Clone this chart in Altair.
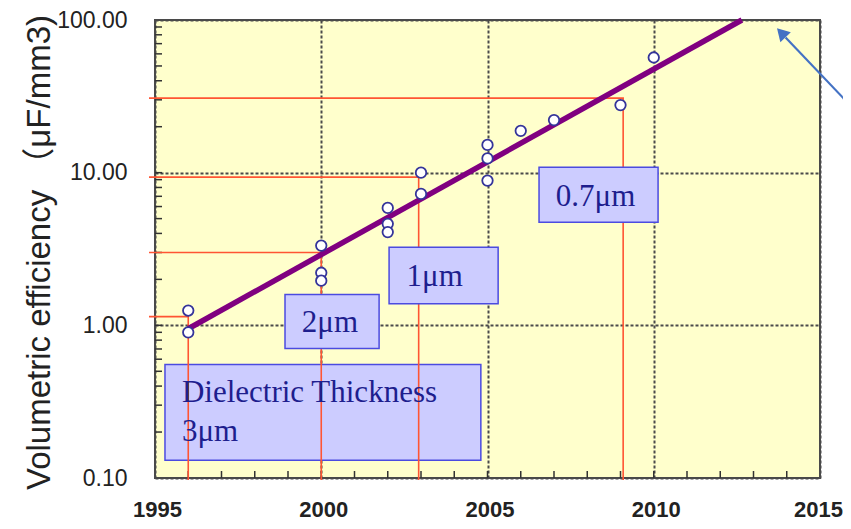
import altair as alt
import pandas as pd

# ---------------- data ----------------
pt_year = [1996, 1996, 2000, 2000, 2000, 2002, 2002, 2002, 2003, 2003,
           2005, 2005, 2005, 2006, 2007, 2009, 2010]
pt_val = [1.25, 0.90, 3.33, 2.21, 1.96, 5.88, 4.62, 4.08, 10.0, 7.26,
          15.2, 12.4, 8.87, 18.8, 22.1, 27.7, 56.8]

trend_year = [1996, 2012.65]
trend_val = [0.95, 100]

step_label = ["3μm", "2μm", "1μm", "0.7μm"]
step_year = [1996, 2000, 2002.93, 2009.08]
step_val = [1.14, 3.0, 9.35, 30.8]
step_start_year = 1994.82
step_floor = 0.097

box_label = ["Dielectric Thickness 3μm", "2μm", "1μm", "0.7μm"]
box_x1 = [1995.30, 1998.91, 2002.04, 2006.55]
box_x2 = [2004.80, 2001.74, 2005.32, 2010.13]
box_lo = [0.1305, 0.704, 1.386, 4.74]
box_hi = [0.553, 1.595, 3.25, 10.85]

left_text = ["Dielectric Thickness", "3μm"]
left_text_year = [1995.81, 1995.81]
left_text_val = [0.313, 0.174]
center_text = ["2μm", "1μm", "0.7μm"]
center_text_year = [2000.26, 2003.41, 2008.25]
center_text_val = [0.910, 1.817, 6.09]

x_major = [1995, 2000, 2005, 2010, 2015]
y_major = [0.1, 1, 10, 100]
x_minor = [1996, 1997, 1998, 1999, 2000, 2001, 2002, 2003, 2004, 2005,
           2006, 2007, 2008, 2009, 2010, 2011, 2012, 2013, 2014]
y_minor = [0.2, 0.3, 0.4, 0.5, 0.6, 0.7, 0.8, 0.9, 1,
           2, 3, 4, 5, 6, 7, 8, 9, 10,
           20, 30, 40, 50, 60, 70, 80, 90]

arrow_tail_year, arrow_tail_val = 2015.93, 27.3
arrow_base_year, arrow_base_val = 2013.965, 76.9
arrow_head_year, arrow_head_val = 2013.836, 82.5

# ---------------- scales / axes ----------------
xs = alt.Scale(domain=[1995, 2015], nice=False, zero=False)
ys = alt.Scale(type="log", domain=[0.1, 100], nice=False)

GRID = "#4a4a4a"
xaxis = alt.Axis(values=x_major, format="d", title=None, grid=True,
                 gridColor=GRID, gridDash=[3, 2], gridWidth=2,
                 ticks=False, domain=False, labelFont="Liberation Sans",
                 labelFontSize=22, labelFontWeight="bold", labelColor="#222",
                 labelPadding=21,
                 labelOffset={"expr": "datum.value == 2015 ? -2 : 2"},
                 labelFlush=False, labelOverlap=False, labelBound=False)
yaxis = alt.Axis(values=y_major, format=".2f",
                 title="Volumetric efficiency （μF/mm3)",
                 titleFont="Liberation Sans, Noto Sans CJK JP",
                 titleFontSize=33, titleFontWeight="normal", titleColor="#222",
                 titleAngle=270, titleX=-106, titleY=232, titleAlign="center",
                 titleBaseline="alphabetic",
                 grid=True, gridColor=GRID, gridDash=[3, 2], gridWidth=2,
                 ticks=False, domain=False, labelFont="Liberation Sans",
                 labelFontSize=23, labelColor="#222", labelPadding=28,
                 labelFlush=False, labelOverlap=False, labelBound=False)


def X(f):
    return alt.X(f, type="quantitative", scale=xs, axis=xaxis)


def Y(f):
    return alt.Y(f, type="quantitative", scale=ys, axis=yaxis)


# ---------------- tables ----------------
pts = pd.DataFrame({"x": pt_year, "y": pt_val})
trend = pd.DataFrame({"x": trend_year, "y": trend_val})

rows = []
for lab, sx, sy in zip(step_label, step_year, step_val):
    rows.append({"g": lab, "o": 0, "x": step_start_year, "y": sy})
    rows.append({"g": lab, "o": 1, "x": sx, "y": sy})
    rows.append({"g": lab, "o": 2, "x": sx, "y": step_floor})
steps = pd.DataFrame(rows)

boxes = pd.DataFrame({"g": box_label, "x": box_x1, "x2": box_x2,
                      "y": box_lo, "y2": box_hi})
ltext = pd.DataFrame({"t": left_text, "x": left_text_year, "y": left_text_val})
ctext = pd.DataFrame({"t": center_text, "x": center_text_year, "y": center_text_val})
xmin = pd.DataFrame({"x": x_minor})
ymin = pd.DataFrame({"y": y_minor})
arrow = pd.DataFrame({"x": [arrow_tail_year], "x2": [arrow_base_year],
                      "y": [arrow_tail_val], "y2": [arrow_base_val]})
head = pd.DataFrame({"x": [arrow_head_year], "y": [arrow_head_val]})

# ---------------- layers ----------------
xticks = alt.Chart(xmin).mark_rule(color="#333", strokeWidth=1.5).encode(
    x=X("x"), y=alt.value(458), y2=alt.value(451))
yticks = alt.Chart(ymin).mark_rule(color="#333", strokeWidth=1.5).encode(
    y=Y("y"), x=alt.value(0), x2=alt.value(7))

big_box = alt.Chart(boxes.iloc[[0]]).mark_rect(
    fill="#CCCCFF", stroke="#4b4be0", strokeWidth=1.5).encode(
    x=X("x"), x2="x2", y=Y("y"), y2="y2")
small_boxes = alt.Chart(boxes.iloc[1:]).mark_rect(
    fill="#CCCCFF", stroke="#4b4be0", strokeWidth=1.5).encode(
    x=X("x"), x2="x2", y=Y("y"), y2="y2")

red = alt.Chart(steps).mark_line(color="#ff5533", strokeWidth=1.6).encode(
    x=X("x"), y=Y("y"), detail="g:N", order="o:Q")

trend_line = alt.Chart(trend).mark_line(color="#800080", strokeWidth=5.5).encode(
    x=X("x"), y=Y("y"))

circles = alt.Chart(pts).mark_point(
    shape="circle", filled=True, fill="white", stroke="#34349a",
    strokeWidth=1.8, size=110, opacity=1).encode(x=X("x"), y=Y("y"))

ltx = alt.Chart(ltext).mark_text(
    align="left", baseline="alphabetic", font="Liberation Serif",
    fontSize=31, color="#1e1e8e").encode(x=X("x"), y=Y("y"), text="t:N")
ctx = alt.Chart(ctext).mark_text(
    align="center", baseline="alphabetic", font="Liberation Serif",
    fontSize=31, color="#1e1e8e").encode(x=X("x"), y=Y("y"), text="t:N")

arrow_line = alt.Chart(arrow).mark_rule(color="#4472C4", strokeWidth=2.2).encode(
    x=X("x"), x2="x2", y=Y("y"), y2="y2")
arrow_head = alt.Chart(head).mark_point(
    shape="triangle-up", filled=True, color="#4472C4", size=207,
    angle=316.5, opacity=1).encode(x=X("x"), y=Y("y"))

chart = alt.layer(
    xticks, yticks, big_box, red, trend_line, circles, small_boxes,
    ltx, ctx, arrow_line, arrow_head
).properties(
    width=665, height=458,
    autosize=alt.AutoSizeParams(type="none"),
    padding={"left": 147, "top": 12, "right": 23, "bottom": 43},
    background="white",
).configure_view(
    fill="#FFFFCC", stroke="#4a4a4a", strokeWidth=2
)

chart.save("out.html", embed_options={"renderer": "svg", "actions": False})
